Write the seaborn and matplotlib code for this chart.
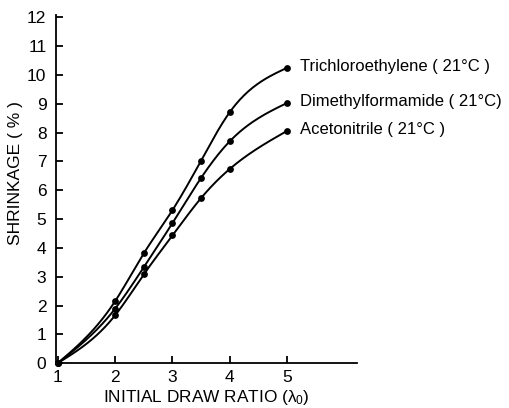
import numpy as np
import pandas as pd
import matplotlib
matplotlib.use("Agg")
import matplotlib.pyplot as plt
import seaborn as sns

draw_ratio = [1, 2, 2.5, 3, 3.5, 4, 5]
trichloroethylene = [0, 2.15, 3.81, 5.31, 7.03, 8.71, 10.25]
dimethylformamide = [0, 1.89, 3.33, 4.86, 6.43, 7.70, 9.03]
acetonitrile = [0, 1.66, 3.08, 4.43, 5.73, 6.74, 8.06]
series_names = ["Trichloroethylene", "Dimethylformamide", "Acetonitrile"]
labels = ["Trichloroethylene ( 21°C )",
          "Dimethylformamide ( 21°C)",
          "Acetonitrile ( 21°C )"]
yticks = list(range(0, 13))
xticks = [1, 2, 3, 4, 5]

sns.set_style("ticks")
plt.rcParams['font.family'] = ['Liberation Sans', 'DejaVu Sans']
plt.rcParams['mathtext.fontset'] = 'custom'
plt.rcParams['mathtext.rm'] = 'Liberation Sans'
plt.rcParams['mathtext.it'] = 'Liberation Sans'
for key in ['text.color', 'axes.labelcolor', 'xtick.color', 'ytick.color']:
    plt.rcParams[key] = 'black'

rows = []
for name, vals in zip(series_names, [trichloroethylene, dimethylformamide, acetonitrile]):
    for x, y in zip(draw_ratio, vals):
        rows.append({"series": name, "ratio": x, "shrink": y})
df = pd.DataFrame(rows)


def natural_spline(xs, ys, n=40):
    # natural cubic spline through the measured points (curve rendering only)
    xs = np.asarray(xs, float); ys = np.asarray(ys, float)
    k = len(xs)
    h = np.diff(xs)
    A = np.zeros((k, k)); b = np.zeros(k)
    A[0, 0] = 1; A[-1, -1] = 1
    for i in range(1, k - 1):
        A[i, i-1] = h[i-1]; A[i, i] = 2*(h[i-1] + h[i]); A[i, i+1] = h[i]
        b[i] = 6*((ys[i+1]-ys[i])/h[i] - (ys[i]-ys[i-1])/h[i-1])
    M = np.linalg.solve(A, b)
    ox, oy = [], []
    for i in range(k - 1):
        t = np.linspace(xs[i], xs[i+1], n, endpoint=False)
        a = xs[i+1] - t; c = t - xs[i]
        y = (M[i]*a**3 + M[i+1]*c**3)/(6*h[i]) + (ys[i]/h[i] - M[i]*h[i]/6)*a + (ys[i+1]/h[i] - M[i+1]*h[i]/6)*c
        ox.extend(t); oy.extend(y)
    ox.append(xs[-1]); oy.append(ys[-1])
    return np.array(ox), np.array(oy)

fig = plt.figure(figsize=(5.1, 4.08), dpi=100)
ax = fig.add_axes([0.110, 0.110, 0.590, 0.853])

curves = []
for name in series_names:
    sub = df[df.series == name]
    cx, cy = natural_spline(sub.ratio.values, sub.shrink.values)
    curves.append(pd.DataFrame({"series": name, "ratio": cx, "shrink": cy}))
cdf = pd.concat(curves)

sns.lineplot(data=cdf, x="ratio", y="shrink", units="series", estimator=None,
             color="black", linewidth=1.4, ax=ax, sort=False)
sns.scatterplot(data=df, x="ratio", y="shrink", color="black", s=24,
                edgecolor="black", linewidth=0, ax=ax, zorder=5, clip_on=False)

for name, lab in zip(series_names, labels):
    sub = df[df.series == name]
    ax.text(5.23, sub.shrink.values[-1] + 0.05, lab, fontsize=12, va="center", ha="left")

ax.set_xlim(0.97, 6.22)
ax.set_ylim(0, 12.08)
ax.set_xticks(xticks)
ax.set_xticklabels([str(v) for v in xticks], fontsize=12.5)
ax.set_yticks(yticks)
ax.set_yticklabels([str(v) for v in yticks], fontsize=12.5)
ax.tick_params(direction="in", length=5, width=1.3, color="black", pad=7)
ax.tick_params(axis="x", pad=5)
for s in ["top", "right"]:
    ax.spines[s].set_visible(False)
for s in ["left", "bottom"]:
    ax.spines[s].set_linewidth(1.3)
    ax.spines[s].set_color("black")
ax.set_xlabel("INITIAL DRAW RATIO ($\\lambda_0$)", fontsize=12.4, labelpad=2)
ax.set_ylabel("SHRINKAGE ( % )", fontsize=12.5)
ax.yaxis.set_label_coords(-0.11, 0.547)
ax.get_legend() and ax.get_legend().remove()

fig.savefig("out.png", dpi=100)
